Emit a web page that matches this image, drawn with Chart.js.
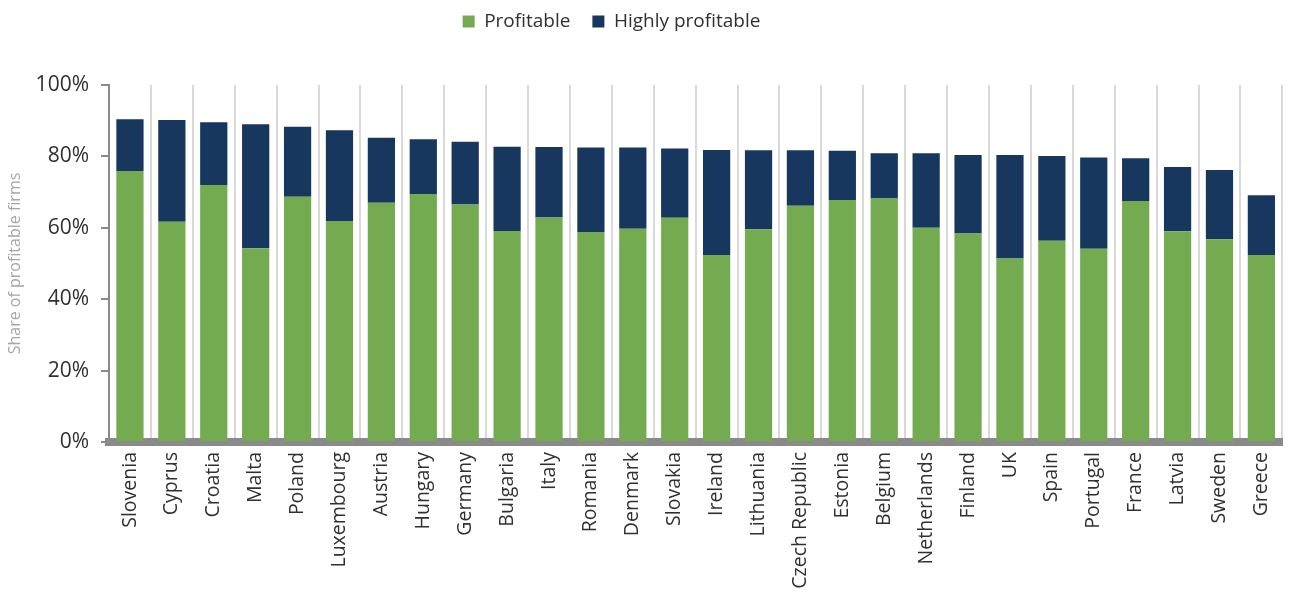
<!DOCTYPE html>
<html>
<head>
<meta charset="utf-8">
<script src="https://cdn.jsdelivr.net/npm/chart.js@4/dist/chart.umd.min.js"></script>
<style>
  html, body { margin: 0; padding: 0; background: #fff; }
  #wrap { width: 1295px; height: 598px; position: relative; }
</style>
</head>
<body>
<div id="wrap"><canvas id="myChart"></canvas></div>
<script>
var countries = ['Slovenia', 'Cyprus', 'Croatia', 'Malta', 'Poland', 'Luxembourg', 'Austria',
  'Hungary', 'Germany', 'Bulgaria', 'Italy', 'Romania', 'Denmark', 'Slovakia', 'Ireland',
  'Lithuania', 'Czech Republic', 'Estonia', 'Belgium', 'Netherlands', 'Finland', 'UK',
  'Spain', 'Portugal', 'France', 'Latvia', 'Sweden', 'Greece'];

// share of firms, in percent
var profitable = [75.9, 61.7, 72.0, 54.3, 68.7, 61.9, 67.0, 69.5, 66.5, 59.1, 62.9, 58.8, 59.7, 62.8,
  52.4, 59.6, 66.2, 67.8, 68.2, 60.0, 58.4, 51.4, 56.4, 54.1, 67.5, 59.0, 56.8, 52.4];
var highlyProfitable = [14.5, 28.5, 17.6, 34.7, 19.6, 25.4, 18.2, 15.3, 17.6, 23.6, 19.7, 23.7, 22.8, 19.4,
  29.4, 22.1, 15.5, 13.8, 12.7, 20.9, 22.0, 29.0, 23.7, 25.6, 12.0, 18.0, 19.4, 16.7];

var yTicks = [0, 20, 40, 60, 80, 100];

var chartColors = {
  green: '#75ab50',
  navy: '#18375f',
  text: '#303030',
  axis: '#8a8a8a',
  grid: '#d9d9d9',
  title: '#a6a6a6'
};

Chart.defaults.font.family = "'Open Sans', sans-serif";
Chart.defaults.color = chartColors.text;

// push the plot down below the legend, and nudge the legend a bit to the left
var legendGap = {
  id: 'legendGap',
  beforeInit: function(chart) {
    var fit = chart.legend.fit;
    chart.legend.fit = function() {
      fit.call(this);
      this.height += 44;
    };
  },
  afterLayout: function(chart) {
    chart.legend.left -= 30;
    chart.legend.right -= 30;
  }
};

var config = {
  type: 'bar',
  data: {
    labels: countries,
    datasets: [{
      label: 'Profitable',
      data: profitable,
      backgroundColor: chartColors.green,
      barPercentage: 0.65,
      categoryPercentage: 1.0
    }, {
      label: 'Highly profitable',
      data: highlyProfitable,
      backgroundColor: chartColors.navy,
      barPercentage: 0.65,
      categoryPercentage: 1.0
    }]
  },
  plugins: [legendGap],
  options: {
    animation: false,
    responsive: true,
    maintainAspectRatio: false,
    layout: { padding: { left: 0, right: 12, top: -10, bottom: 0 } },
    plugins: {
      tooltip: { enabled: false },
      legend: {
        position: 'top',
        labels: {
          boxWidth: 12,
          boxHeight: 12,
          padding: 22,
          color: chartColors.text,
          font: { size: 19 }
        }
      }
    },
    scales: {
      x: {
        stacked: true,
        offset: true,
        grid: {
          offset: true,
          color: chartColors.grid,
          lineWidth: 2,
          drawTicks: false
        },
        border: { color: chartColors.axis, width: 8 },
        ticks: {
          minRotation: 90,
          maxRotation: 90,
          padding: 10,
          autoSkip: false,
          color: chartColors.text,
          font: { size: 19.5 }
        },
        afterFit: function(scale) { scale.height = 156; }
      },
      y: {
        stacked: true,
        min: 0,
        max: 100,
        afterBuildTicks: function(scale) {
          scale.ticks = yTicks.map(function(v) { return { value: v }; });
        },
        grid: {
          drawOnChartArea: false,
          drawTicks: true,
          tickLength: 8,
          color: chartColors.axis,
          lineWidth: 2
        },
        border: { color: chartColors.axis, width: 2 },
        ticks: {
          padding: 12,
          color: chartColors.text,
          font: { size: 21 },
          callback: function(v) { return v + '%'; }
        },
        title: {
          display: true,
          text: 'Share of profitable firms',
          color: chartColors.title,
          font: { size: 16 },
          padding: { top: 6, bottom: 10 }
        },
        afterFit: function(scale) { scale.width = 109; }
      }
    }
  }
};

window.onload = function() {
  var ctx = document.getElementById('myChart').getContext('2d');
  window.myBar = new Chart(ctx, config);
};
</script>
</body>
</html>
